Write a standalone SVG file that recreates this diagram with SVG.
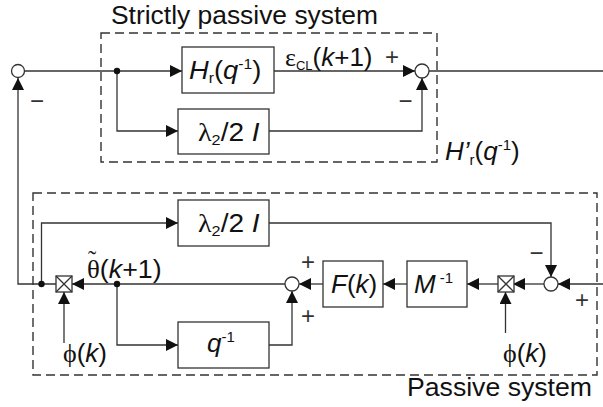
<svg xmlns="http://www.w3.org/2000/svg" width="603" height="407" viewBox="0 0 603 407">
<style>
.ln{fill:none;stroke:#333;stroke-width:1.3}
.bx{fill:#fff;stroke:#333;stroke-width:1.3}
.dash{fill:none;stroke:#333;stroke-width:1.4;stroke-dasharray:9 5}
.sum{fill:#fff;stroke:#333;stroke-width:1.3}
.dot{fill:#111}
text{font-family:"Liberation Sans",Arial,sans-serif;fill:#111}
.lbl{font-size:26px}
.it{font-style:italic}
.sg{font-size:24px;text-anchor:middle;fill:#333}
.gr{font-family:"Liberation Serif","DejaVu Serif",serif}
</style>
<defs>
<marker id="ah" markerUnits="userSpaceOnUse" markerWidth="13" markerHeight="12" refX="12" refY="6" orient="auto">
<path d="M0,0 L12,6 L0,12 z" fill="#111"/>
</marker>
</defs>

<g id="frames">
<rect class="dash" x="101" y="33" width="336" height="129"/>
<rect class="dash" x="33" y="193" width="564" height="182"/>
<text x="111" y="24" font-size="25" textLength="267" lengthAdjust="spacingAndGlyphs">Strictly passive system</text>
<text x="407" y="396" font-size="26" textLength="185" lengthAdjust="spacingAndGlyphs">Passive system</text>
<text class="lbl" transform="translate(445,160)"><tspan class="it">H’</tspan><tspan font-size="15" dy="5">r</tspan><tspan dy="-5">(</tspan><tspan class="it">q</tspan><tspan font-size="15" dy="-10">-1</tspan><tspan dy="10">)</tspan></text>
</g>

<g id="connectors">
<path class="ln" d="M24.5,71 H182" marker-end="url(#ah)"/>
<path class="ln" d="M117,71 V131 H178" marker-end="url(#ah)"/>
<path class="ln" d="M274,71 H415" marker-end="url(#ah)"/>
<path class="ln" d="M269,131 H422 V78" marker-end="url(#ah)"/>
<path class="ln" d="M429,71 H603"/>
<path class="ln" d="M56,284 H18 V78" marker-end="url(#ah)"/>
<path class="ln" d="M41.5,284 V223 H178" marker-end="url(#ah)"/>
<path class="ln" d="M285,284 H72" marker-end="url(#ah)"/>
<path class="ln" d="M117,284 V345 H178" marker-end="url(#ah)"/>
<path class="ln" d="M269,345 H292 V291" marker-end="url(#ah)"/>
<path class="ln" d="M323,284 H299" marker-end="url(#ah)"/>
<path class="ln" d="M407,284 H383" marker-end="url(#ah)"/>
<path class="ln" d="M498,284 H467" marker-end="url(#ah)"/>
<path class="ln" d="M544,284 H513" marker-end="url(#ah)"/>
<path class="ln" d="M603,284 H558" marker-end="url(#ah)"/>
<path class="ln" d="M269,223 H551 V277" marker-end="url(#ah)"/>
<path class="ln" d="M64,343 V292" marker-end="url(#ah)"/>
<path class="ln" d="M505.5,333 V292" marker-end="url(#ah)"/>
<circle class="dot" cx="117" cy="71" r="3.2"/>
<circle class="dot" cx="41.5" cy="284" r="3.2"/>
<circle class="dot" cx="117" cy="284" r="3.2"/>
<text class="lbl" transform="translate(285,66)"><tspan class="gr">ε</tspan><tspan font-size="13" dy="4">CL</tspan><tspan dy="-4">(</tspan><tspan class="it">k</tspan>+1)</text>
<text class="lbl" transform="translate(87,278) scale(1.03,1)"><tspan class="gr">θ</tspan><tspan class="gr" font-size="24" dx="-11.5" dy="-11">˜</tspan><tspan dx="3.5" dy="11">(</tspan><tspan class="it">k</tspan>+1)</text>
<text class="lbl" transform="translate(63,362)"><tspan class="gr">ϕ</tspan>(<tspan class="it">k</tspan>)</text>
<text class="lbl" transform="translate(503,362)"><tspan class="gr">ϕ</tspan>(<tspan class="it">k</tspan>)</text>
<text class="sg" x="392" y="65">+</text>
<text class="sg" x="405.5" y="109">−</text>
<text class="sg" x="37" y="109">−</text>
<text class="sg" x="308" y="270">+</text>
<text class="sg" x="308" y="324">+</text>
<text class="sg" x="536.5" y="261">−</text>
<text class="sg" x="582" y="308">+</text>
</g>

<g id="sumL"><circle class="sum" cx="18" cy="71" r="6.5"/></g>
<g id="sumR"><circle class="sum" cx="422" cy="71" r="7"/></g>
<g id="sumM"><circle class="sum" cx="292" cy="284" r="7"/></g>
<g id="sumB"><circle class="sum" cx="551" cy="284" r="7"/></g>

<g id="Hr">
<rect class="bx" x="182" y="47" width="92" height="46"/>
<text class="lbl" transform="translate(189,79) scale(1.05,1)"><tspan class="it">H</tspan><tspan font-size="15" dy="4">r</tspan><tspan dy="-4">(</tspan><tspan class="it">q</tspan><tspan font-size="15" dy="-10">-1</tspan><tspan dy="10">)</tspan></text>
</g>
<g id="lam1">
<rect class="bx" x="178" y="109" width="91" height="45"/>
<text class="lbl" transform="translate(198,141) scale(1.08,1)"><tspan class="gr">λ</tspan><tspan font-size="15" dy="4">2</tspan><tspan dy="-4">/2 </tspan><tspan class="it">I</tspan></text>
</g>
<g id="lam2">
<rect class="bx" x="178" y="200" width="91" height="46"/>
<text class="lbl" transform="translate(198,232) scale(1.08,1)"><tspan class="gr">λ</tspan><tspan font-size="15" dy="4">2</tspan><tspan dy="-4">/2 </tspan><tspan class="it">I</tspan></text>
</g>
<g id="qinv">
<rect class="bx" x="178" y="322" width="91" height="46"/>
<text class="lbl" transform="translate(207,352)"><tspan class="it">q</tspan><tspan font-size="15" dy="-10">-1</tspan></text>
</g>
<g id="Fk">
<rect class="bx" x="323" y="261" width="60" height="46"/>
<text class="lbl" transform="translate(331,293)"><tspan class="it">F</tspan>(<tspan class="it">k</tspan>)</text>
</g>
<g id="Minv">
<rect class="bx" x="407" y="261" width="60" height="46"/>
<text class="lbl" transform="translate(414,293)"><tspan class="it">M</tspan><tspan font-size="15" dx="4" dy="-10">-1</tspan></text>
</g>
<g id="mul1">
<rect class="bx" x="56" y="276" width="16" height="16"/>
<path class="ln" d="M56,276 L72,292 M72,276 L56,292"/>
</g>
<g id="mul2">
<rect class="bx" x="498" y="276" width="16" height="16"/>
<path class="ln" d="M498,276 L514,292 M514,276 L498,292"/>
</g>
</svg>
